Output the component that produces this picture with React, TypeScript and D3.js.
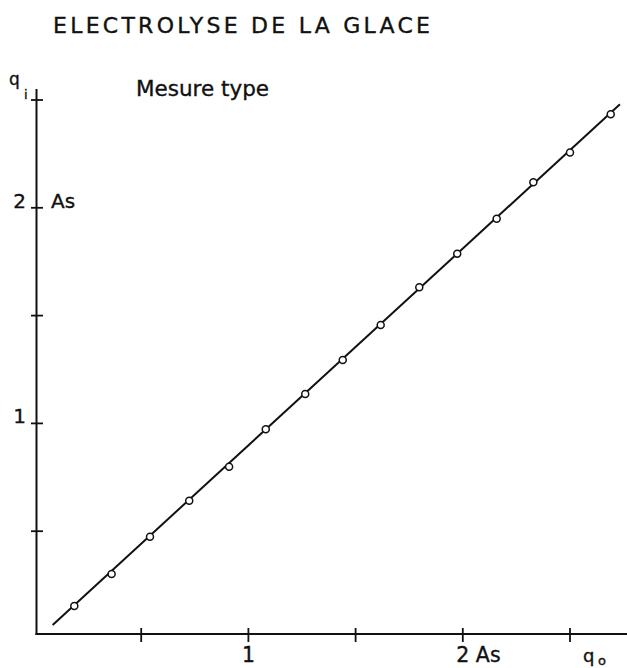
import React from "react";
import * as d3 from "d3";

const TITLE = "ELECTROLYSE DE LA GLACE";
const SUBTITLE = "Mesure type";

// measured points (q_o, q_i) in As
const qo = [0.188, 0.362, 0.541, 0.724, 0.91, 1.081, 1.265, 1.44, 1.617, 1.797, 1.974, 2.158, 2.329, 2.5, 2.69];
const qi = [0.153, 0.301, 0.474, 0.641, 0.799, 0.973, 1.136, 1.294, 1.456, 1.631, 1.787, 1.949, 2.118, 2.256, 2.434];

// fitted straight line endpoints
const fitX = [0.087, 2.733];
const fitY = [0.065, 2.48];

const xTicks = [0.5, 1, 1.5, 2, 2.5];
const yTicks = [0.5, 1, 1.5, 2, 2.5];
const xTickLabels: Record<string, string> = { "1": "1", "2": "2 As" };
const yTickLabels: Record<string, string> = { "1": "1", "2": "2" };

const W = 627;
const H = 668;

export default function App() {
  const x = d3.scaleLinear().domain([0, 2.5]).range([34, 570]);
  const y = d3.scaleLinear().domain([0, 2.5]).range([639, 100]);
  const axisX = 36.5; // pixel position of the q_i axis
  const axisY = 634; // pixel position of the q_o axis
  const ink = "#111";
  const font = "'DejaVu Sans', sans-serif";
  const heavy = { stroke: ink, strokeWidth: 0.35 };

  const line = d3
    .line<number>()
    .x((_, i) => x(fitX[i]))
    .y((_, i) => y(fitY[i]));

  return (
    <svg
      width={W}
      height={H}
      style={{ position: "absolute", left: 0, top: 0, display: "block", background: "#fff" }}
      fontFamily={font}
    >
      <rect width={W} height={H} fill="#fff" />
      <text x={53} y={33} fontSize={22} fill={ink} textLength={377} lengthAdjust="spacing" {...heavy}>
        {TITLE}
      </text>
      <text x={136} y={96} fontSize={21.5} fill={ink} {...heavy}>
        {SUBTITLE}
      </text>

      {/* axes */}
      <line x1={axisX} x2={axisX} y1={axisY + 1} y2={89} stroke={ink} strokeWidth={2} />
      <line x1={axisX - 1} x2={W} y1={axisY} y2={axisY} stroke={ink} strokeWidth={2} />

      {yTicks.map((t) => (
        <line key={"yt" + t} x1={31} x2={43} y1={y(t)} y2={y(t)} stroke={ink} strokeWidth={1.8} />
      ))}
      {xTicks.map((t) => (
        <line key={"xt" + t} x1={x(t)} x2={x(t)} y1={axisY - 6} y2={axisY + 8} stroke={ink} strokeWidth={1.8} />
      ))}

      {yTicks
        .filter((t) => yTickLabels[String(t)])
        .map((t) => (
          <text key={"yl" + t} x={26} y={y(t)} fontSize={20} fill={ink} textAnchor="end" {...heavy}>
            {yTickLabels[String(t)]}
          </text>
        ))}
      <text x={51} y={y(2)} fontSize={20} fill={ink} {...heavy}>
        As
      </text>

      {xTicks
        .filter((t) => xTickLabels[String(t)])
        .map((t) => (
          <text key={"xl" + t} x={x(t) - 6.5} y={662} fontSize={20.5} fill={ink} {...heavy}>
            {xTickLabels[String(t)]}
          </text>
        ))}

      {/* axis names */}
      <text x={9} y={85} fontSize={17} fill={ink} {...heavy}>
        q
      </text>
      <text x={24} y={99} fontSize={13} fill={ink} {...heavy}>
        i
      </text>
      <text x={583} y={662} fontSize={18} fill={ink} {...heavy}>
        q
      </text>
      <text x={598} y={665} fontSize={13} fill={ink} {...heavy}>
        o
      </text>

      {/* fitted line */}
      <path d={line(fitX) || ""} fill="none" stroke={ink} strokeWidth={2} />

      {/* measured points */}
      {qo.map((v, i) => (
        <circle key={"p" + i} cx={x(v)} cy={y(qi[i])} r={3.5} fill="#fff" stroke={ink} strokeWidth={1.5} />
      ))}
    </svg>
  );
}
